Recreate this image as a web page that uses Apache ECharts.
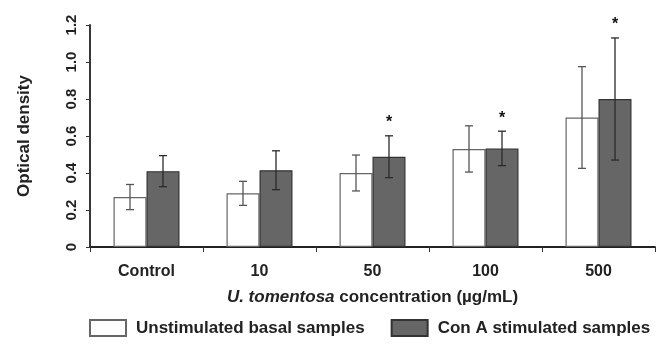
<!DOCTYPE html>
<html>
<head>
<meta charset="utf-8">
<script src="https://cdn.jsdelivr.net/npm/echarts@6/dist/echarts.min.js"></script>
<style>html,body{margin:0;padding:0;background:#fff;}#c{width:662px;height:347px;}</style>
</head>
<body>
<div id="c"></div>
<script>
var categories = ['Control', '10', '50', '100', '500'];
var basal = [0.27, 0.29, 0.40, 0.53, 0.70];
var basalErr = [0.068, 0.065, 0.097, 0.125, 0.275];
var conA = [0.41, 0.415, 0.488, 0.533, 0.80];
var conAErr = [0.084, 0.105, 0.113, 0.093, 0.33];
var significant = [false, false, true, true, true];
var yTicks = [0, 0.2, 0.4, 0.6, 0.8, 1.0, 1.2];

var BAR_W = 33;
var FONT = '"Liberation Sans", Arial, sans-serif';

function errData(vals, errs, sig) {
  return vals.map(function (v, i) { return [i, v, errs[i], sig ? (sig[i] ? 1 : 0) : 0]; });
}

function errRender(offsetSign, color) {
  return function (params, api) {
    var i = api.value(0), v = api.value(1), e = api.value(2), s = api.value(3);
    var top = api.coord([i, v + e]);
    var bot = api.coord([i, v - e]);
    var x = top[0] + offsetSign * BAR_W / 2;
    var cap = 4;
    var style = { stroke: color, lineWidth: 1.3 };
    var children = [
      { type: 'line', shape: { x1: x, y1: top[1], x2: x, y2: bot[1] }, style: style },
      { type: 'line', shape: { x1: x - cap, y1: top[1], x2: x + cap, y2: top[1] }, style: style },
      { type: 'line', shape: { x1: x - cap, y1: bot[1], x2: x + cap, y2: bot[1] }, style: style }
    ];
    if (s) {
      children.push({ type: 'text', style: { text: '*', x: x, y: top[1] - 13, fill: '#111', font: 'bold 16px ' + FONT, textAlign: 'center', textVerticalAlign: 'middle' } });
    }
    return { type: 'group', children: children };
  };
}

var chart = echarts.init(document.getElementById('c'));
chart.setOption({
  animation: false,
  textStyle: { fontFamily: FONT },
  grid: { left: 90, right: 7, top: 25, bottom: 100 },
  legend: {
    left: 89, right: 0, top: 319, padding: 0, itemWidth: 36, itemHeight: 16, itemGap: 26,
    icon: 'rect',
    textStyle: { fontFamily: FONT, fontWeight: 'bold', fontSize: 17, color: '#222', padding: [0, 0, 0, 5] },
    data: ['Unstimulated basal samples', 'Con A stimulated samples']
  },
  xAxis: {
    type: 'category',
    data: categories,
    name: '{i|U. tomentosa} concentration (µg/mL)',
    nameLocation: 'middle',
    nameGap: 42,
    nameTextStyle: { fontFamily: FONT, fontWeight: 'bold', fontSize: 17, color: '#222',
      rich: { i: { fontStyle: 'italic', fontWeight: 'bold', fontSize: 17, fontFamily: FONT, color: '#222' } } },
    axisLine: { lineStyle: { color: '#222', width: 1.8 } },
    axisTick: { show: true, inside: false, length: 5, lineStyle: { color: '#333' } },
    axisLabel: { fontFamily: FONT, fontWeight: 'bold', fontSize: 16, color: '#222', margin: 17 }
  },
  yAxis: {
    type: 'value',
    min: 0, max: 1.2, interval: 0.2,
    name: 'Optical density',
    nameLocation: 'middle',
    nameGap: 57,
    nameRotate: 90,
    nameTextStyle: { fontFamily: FONT, fontWeight: 'bold', fontSize: 17, color: '#222' },
    splitLine: { show: false },
    axisLine: { show: true, lineStyle: { color: '#222', width: 1.8 } },
    axisTick: { show: true, length: 4, lineStyle: { color: '#333' } },
    axisLabel: {
      rotate: 90, margin: 11, fontFamily: FONT, fontWeight: 'bold', fontSize: 15, color: '#222',
      formatter: function (v) { return v === 0 ? '0' : v.toFixed(1); }
    }
  },
  series: [
    { name: 'Unstimulated basal samples', type: 'bar', data: basal, barWidth: BAR_W, barGap: '0%',
      itemStyle: { color: '#ffffff', borderColor: '#666', borderWidth: 1.2 } },
    { name: 'Con A stimulated samples', type: 'bar', data: conA, barWidth: BAR_W, barGap: '0%',
      itemStyle: { color: '#666666', borderColor: '#333', borderWidth: 1.2 } },
    { type: 'custom', data: errData(basal, basalErr, null), renderItem: errRender(-1, '#555'), z: 5,
      encode: { x: 0, y: 1 } },
    { type: 'custom', data: errData(conA, conAErr, significant), renderItem: errRender(1, '#2a2a2a'), z: 5,
      encode: { x: 0, y: 1 } }
  ]
});
</script>
</body>
</html>
